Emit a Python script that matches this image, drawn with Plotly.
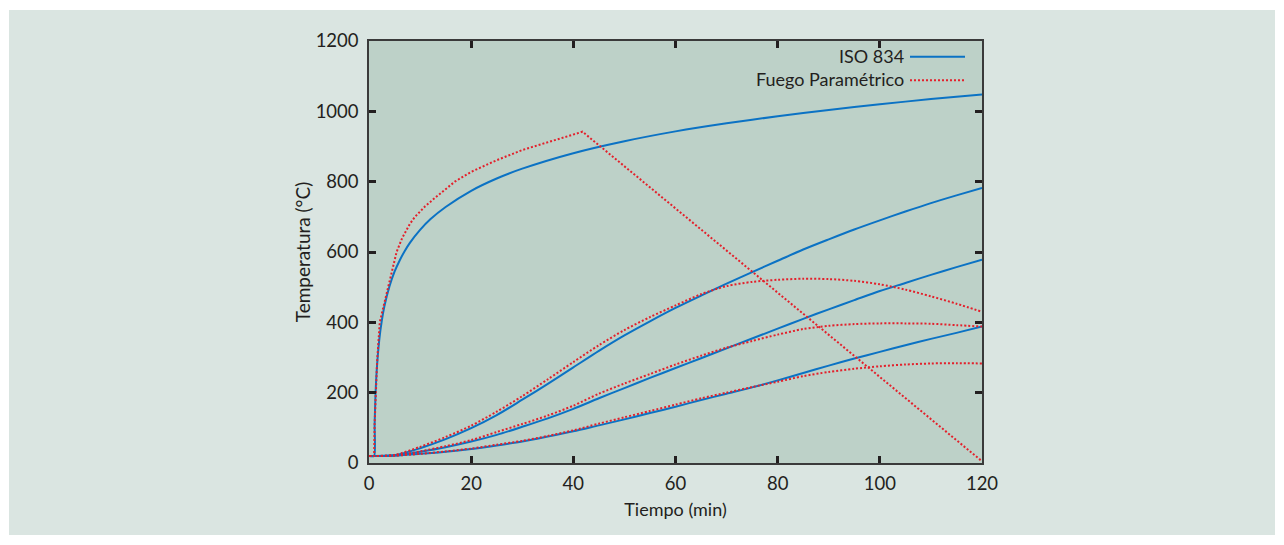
import plotly.graph_objects as go

# ---------------- data ----------------
t_iso = [0, 1, 1.1, 1.25, 1.5, 2, 2.5, 3, 4, 5, 6, 7, 8, 10, 12, 15, 20, 25, 30,
         40, 50, 60, 70, 80, 90, 100, 110, 120]
T_iso = [20, 20, 108, 185, 261, 349, 404, 445, 502, 544, 576, 603, 626, 663, 693,
         728, 774, 809, 837, 881, 915, 943, 966, 986, 1004, 1020, 1035, 1048]

t_par = [0, 1, 1.1, 1.3, 1.6, 2.1, 2.9, 3.8, 4.5, 5.4, 6.5, 8, 9, 11, 13, 16.8, 20,
         25, 30, 35, 38, 41.8, 60, 80, 100, 120]
T_par = [20, 20, 110, 200, 290, 400, 450, 500, 550, 600, 640, 680, 700, 730, 755,
         800, 828, 861, 890, 912, 925, 942, 724, 484, 244, 5]

t_steel = [0, 1, 5, 10, 15, 20, 25, 30, 35, 40, 45, 50, 55, 60, 65, 70, 75, 80, 85,
           90, 95, 100, 105, 110, 115, 120]
iso_A = [20, 20, 22, 42, 68, 99, 136, 180, 225, 272, 319, 363, 403, 441, 476, 510,
         543, 575, 607, 636, 664, 690, 715, 739, 761, 782]
iso_B = [20, 20, 21, 32, 45, 61, 80, 103, 127, 154, 184, 213, 242, 270, 298, 326,
         354, 382, 410, 437, 463, 489, 512, 535, 557, 578]
iso_C = [20, 20, 21, 26, 32, 40, 50, 61, 75, 90, 107, 124, 142, 160, 179, 197,
         215, 235, 256, 277, 297, 316, 335, 353, 370, 388]
par_A = [20, 20, 23, 46, 74, 106, 146, 190, 238, 287, 335, 378, 415, 448, 480, 503,
         515, 521, 524, 523, 518, 508, 493, 474, 453, 430]
par_B = [20, 20, 21, 33, 48, 65, 88, 111, 135, 163, 197, 226, 253, 280, 305, 328,
         347, 365, 381, 390, 395, 397, 397, 396, 392, 388]
par_C = [20, 20, 21, 26, 33, 41, 52, 63, 77, 93, 112, 130, 148, 166, 184, 200,
         216, 231, 247, 259, 268, 275, 280, 283, 284, 283]

legend_labels = ["ISO 834", "Fuego Paramétrico"]

# ---------------- styling ----------------
BLUE = "#0b72c4"
RED = "#e3202b"
FONT = "Lato"
TXT = "#231f20"
OFF = 8  # page body margin of the html

fig = go.Figure()
blue_line = dict(color=BLUE, width=2, shape="spline", smoothing=0.8)
red_line = dict(color=RED, width=2, dash="2px,2px", shape="spline", smoothing=0.8)
red_main = dict(color=RED, width=2, dash="2px,2px")
blue_main = dict(color=BLUE, width=2, shape="spline", smoothing=0.6)

for ys in (iso_A, iso_B, iso_C):
    fig.add_trace(go.Scatter(x=t_steel, y=ys, mode="lines", line=blue_line,
                             showlegend=False, hoverinfo="skip"))
fig.add_trace(go.Scatter(x=t_iso, y=T_iso, mode="lines", line=blue_main,
                         name=legend_labels[0], showlegend=False))
for ys in (par_A, par_B, par_C):
    fig.add_trace(go.Scatter(x=t_steel, y=ys, mode="lines", line=red_line,
                             showlegend=False, hoverinfo="skip"))
fig.add_trace(go.Scatter(x=t_par, y=T_par, mode="lines", line=red_main,
                         name=legend_labels[1], showlegend=False))

W, H = 1284 - 2 * OFF, 545 - 2 * OFF
L = 369 - OFF
T = 41 - OFF
R = W - (982 - OFF)
B = H - (463 - OFF)
pw, ph = W - L - R, H - T - B


def px(xp):
    return (xp - OFF - L) / pw


def py(yp):
    return (H - B - (yp - OFF)) / ph


LEG_FS = 18
LEG_MID = 67.5
LEG_DY = 0.65 * LEG_FS  # half of plotly's 1.3 line spacing

shapes = [
    dict(type="rect", xref="paper", yref="paper", x0=px(9), x1=px(1275),
         y0=py(535), y1=py(10), fillcolor="#dae5e1", line=dict(width=0),
         layer="below"),
    dict(type="rect", xref="paper", yref="paper", x0=0, x1=1, y0=0, y1=1,
         fillcolor="#bdd1c8", line=dict(width=0), layer="below"),
    dict(type="line", xref="paper", yref="paper", x0=px(910), x1=px(965),
         y0=py(LEG_MID - LEG_DY + 1), y1=py(LEG_MID - LEG_DY + 1),
         line=dict(color=BLUE, width=2)),
    dict(type="line", xref="paper", yref="paper", x0=px(910), x1=px(965),
         y0=py(LEG_MID + LEG_DY + 1), y1=py(LEG_MID + LEG_DY + 1),
         line=dict(color=RED, width=2, dash="2px,2px")),
]

annotations = [
    dict(text="<br>".join(legend_labels), xref="paper", yref="paper",
         x=px(905), y=py(LEG_MID), xanchor="right", yanchor="middle",
         align="right", showarrow=False, borderpad=0,
         font=dict(family=FONT, size=LEG_FS, color=TXT)),
]

axis_common = dict(showgrid=False, zeroline=False, showline=True, mirror="ticks",
                   linecolor="#3a3a3a", linewidth=1.5, ticks="inside",
                   ticklen=7, tickwidth=2.5, tickcolor="#231f20",
                   tickfont=dict(family=FONT, size=18.5, color=TXT))

fig.update_layout(
    width=W, height=H,
    margin=dict(l=L, r=R, t=T, b=B, pad=0),
    paper_bgcolor="white",
    plot_bgcolor="rgba(0,0,0,0)",
    shapes=shapes,
    annotations=annotations,
    xaxis=dict(range=[0, 120], dtick=20, tick0=0,
               title=dict(text="Tiempo (min)", standoff=10,
                          font=dict(family=FONT, size=18, color=TXT)),
               ticklabelstandoff=3, **axis_common),
    yaxis=dict(range=[0, 1200], dtick=200, tick0=0,
               title=dict(text="Temperatura (°C)", standoff=0,
                          font=dict(family=FONT, size=19, color=TXT)),
               ticklabelstandoff=5, **axis_common),
    showlegend=False,
)

fig.write_html("out.html")
